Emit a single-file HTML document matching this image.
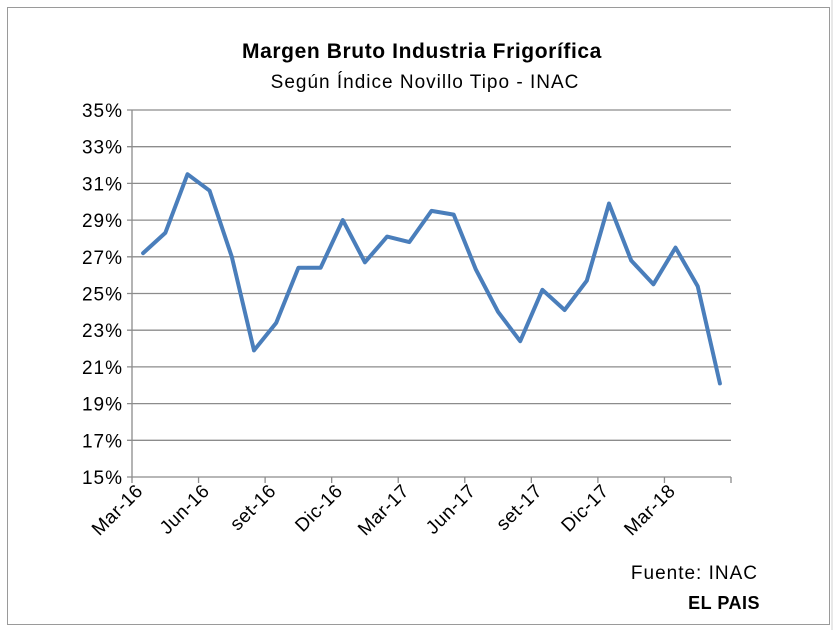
<!DOCTYPE html>
<html><head><meta charset="utf-8"><style>
body{margin:0;background:#fff;width:840px;height:630px;overflow:hidden}
svg{display:block;font-family:"Liberation Sans",sans-serif}
</style></head><body>
<svg width="840" height="630">
<rect x="0" y="0" width="840" height="630" fill="#fff"/>
<line x1="832" y1="0" x2="832" y2="630" stroke="#d0d0d0"/>
<rect x="7.5" y="7.5" width="822" height="617" fill="#fff" stroke="#9a9a9a"/>
<text x="422" y="58" text-anchor="middle" font-size="21" font-weight="bold" letter-spacing="0.6" fill="#000">Margen Bruto Industria Frigorífica</text>
<text x="425" y="88" text-anchor="middle" font-size="19" letter-spacing="1" fill="#000">Según Índice Novillo Tipo - INAC</text>
<g id="grid"></g>
<g id="xaxis"></g>
<polyline id="line" fill="none" stroke="#4a7ebb" stroke-width="4" stroke-linejoin="round" stroke-linecap="round"/>
<text x="758" y="579" text-anchor="end" font-size="19" letter-spacing="1">Fuente: INAC</text>
<text x="760" y="609" text-anchor="end" font-size="18" font-weight="bold" letter-spacing="0.5">EL PAIS</text>
</svg>
<script>
const months = ["Mar-16","Apr-16","May-16","Jun-16","Jul-16","Aug-16","set-16","Oct-16","Nov-16","Dic-16","Jan-17","Feb-17","Mar-17","Apr-17","May-17","Jun-17","Jul-17","Aug-17","set-17","Oct-17","Nov-17","Dic-17","Jan-18","Feb-18","Mar-18","Apr-18","May-18"];
const values = [27.2,28.3,31.5,30.6,27.0,21.9,23.4,26.4,26.4,29.0,26.7,28.1,27.8,29.5,29.3,26.3,24.0,22.4,25.2,24.1,25.7,29.9,26.8,25.5,27.5,25.4,20.1];
const yTicks = [15,17,19,21,23,25,27,29,31,33,35];
const NS="http://www.w3.org/2000/svg";
const X0=132,X1=731,Y0=477,Y1=110,YMIN=15,YMAX=35;
const step=(X1-X0)/months.length;
function xs(i){return X0+step*(i+0.5);}
function ys(v){return Y0-(v-YMIN)/(YMAX-YMIN)*(Y0-Y1);}
function mk(tag,attrs,parent){const e=document.createElementNS(NS,tag);for(const k in attrs)e.setAttribute(k,attrs[k]);parent.appendChild(e);return e;}
const grid=document.getElementById('grid');
yTicks.forEach(t=>{
  const l=mk('line',{x1:X0-5,x2:X1,y1:ys(t),y2:ys(t),stroke:'#8c8c8c','stroke-width':1.3},grid);
  
  
  const tx=mk('text',{x:123,y:ys(t)+7,'text-anchor':'end','font-size':19,'letter-spacing':1,fill:'#000'},grid);
  tx.textContent=t+'%';
  
  
});
const ax=document.getElementById('xaxis');
const yl=mk('line',{x1:X0,x2:X0,y1:Y1,y2:Y0,stroke:'#8c8c8c','stroke-width':1.3},ax);


for(let i=0;i<=months.length;i+=3){
  const x=X0+step*i;
  const tk=mk('line',{x1:x,x2:x,y1:Y0,y2:Y0+6,stroke:'#8c8c8c','stroke-width':1.3},ax);
  
  
}
months.forEach((m,i)=>{
  if(i%3!==0)return;
  const x=X0+step*i+12,y=492;
  const t=mk('text',{x:x,y:y,'text-anchor':'end','font-size':19,'letter-spacing':0.5,transform:`rotate(-45 ${x} ${y})`},ax);
  t.textContent=m;
  
  
});
document.getElementById('line').setAttribute('points',values.map((v,i)=>xs(i).toFixed(1)+','+ys(v).toFixed(1)).join(' '));
</script>
</body></html>
